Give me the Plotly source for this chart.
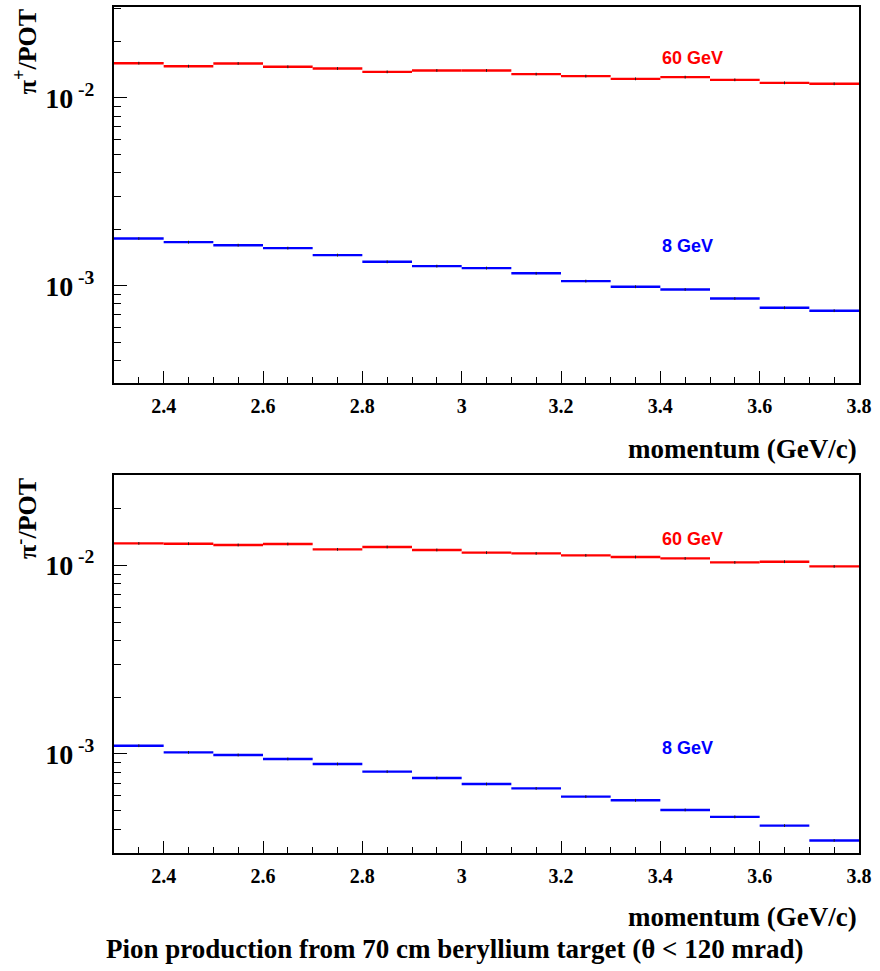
import plotly.graph_objects as go

# bin edges (momentum, GeV/c)
bin_low = [2.3, 2.4, 2.5, 2.6, 2.7, 2.8, 2.9, 3.0, 3.1, 3.2, 3.3, 3.4, 3.5, 3.6, 3.7]
bin_high = [2.4, 2.5, 2.6, 2.7, 2.8, 2.9, 3.0, 3.1, 3.2, 3.3, 3.4, 3.5, 3.6, 3.7, 3.8]

# pi+ per POT
piplus_60 = [0.01528, 0.01473, 0.01523, 0.01462, 0.01432, 0.01374, 0.01398, 0.01398,
             0.01336, 0.01304, 0.01261, 0.01288, 0.01246, 0.01201, 0.01187]
piplus_8 = [1.783e-3, 1.706e-3, 1.644e-3, 1.586e-3, 1.456e-3, 1.341e-3, 1.272e-3, 1.242e-3,
            1.165e-3, 1.059e-3, 0.988e-3, 0.956e-3, 0.856e-3, 0.764e-3, 0.737e-3]
# pi- per POT
piminus_60 = [0.01308, 0.01303, 0.01283, 0.01298, 0.01216, 0.01252, 0.01207, 0.01168,
              0.01158, 0.01130, 0.01108, 0.01089, 0.01037, 0.01046, 0.00988]
piminus_8 = [1.106e-3, 1.020e-3, 0.988e-3, 0.941e-3, 0.885e-3, 0.806e-3, 0.746e-3, 0.693e-3,
             0.657e-3, 0.594e-3, 0.568e-3, 0.505e-3, 0.464e-3, 0.417e-3, 0.348e-3]

x_ticks = [2.4, 2.6, 2.8, 3.0, 3.2, 3.4, 3.6, 3.8]
y_major = [1e-3, 1e-2]
y_major_text = ["10<sup> -3</sup>", "10<sup> -2</sup>"]
y_minor = [k * 1e-4 for k in range(3, 10)] + [k * 1e-3 for k in range(2, 10)] + [k * 1e-2 for k in range(2, 4)]

centers = [(a + b) / 2 for a, b in zip(bin_low, bin_high)]
half = [(b - a) / 2 for a, b in zip(bin_low, bin_high)]

SERIF = "Liberation Serif"
SANS = "Liberation Sans"

fig = go.Figure()


def add_hist(vals, color, xa, ya):
    fig.add_trace(go.Scatter(
        x=centers, y=vals, mode="markers",
        marker=dict(symbol="line-ns-open", size=2, color="#222", line=dict(width=1, color="#222")),
        error_x=dict(type="data", array=half, symmetric=True, width=0, thickness=2.4, color=color),
        xaxis=xa, yaxis=ya, showlegend=False, hoverinfo="x+y",
    ))


add_hist(piplus_60, "#ff0000", "x", "y")
add_hist(piplus_8, "#0000ff", "x", "y")
add_hist(piminus_60, "#ff0000", "x2", "y2")
add_hist(piminus_8, "#0000ff", "x2", "y2")

xcommon = dict(
    range=[2.3, 3.8], tickvals=x_ticks, ticks="inside", ticklen=12, tickwidth=1,
    tickcolor="black", showline=True, mirror=True, linecolor="black", linewidth=2,
    showgrid=False, zeroline=False, automargin=False,
    tickfont=dict(family=SERIF, size=20, color="black", weight="bold"),
    ticklabelstandoff=4,
    minor=dict(dtick=0.05, tick0=2.3, ticks="inside", ticklen=6, tickcolor="black", showgrid=False),
)
ycommon = dict(
    type="log", tickvals=y_major, ticktext=y_major_text, ticks="inside", ticklen=13,
    tickwidth=1, tickcolor="black", showline=True, mirror=True, linecolor="black",
    linewidth=2, showgrid=False, zeroline=False, automargin=False,
    tickfont=dict(family=SERIF, size=28, color="black", weight="bold"),
    ticklabelstandoff=12,
    minor=dict(tickvals=y_minor, ticks="inside", ticklen=7, tickcolor="black", showgrid=False),
)

fig.update_layout(
    width=880, height=971,
    margin=dict(l=114, r=21, t=7, b=118, autoexpand=False),
    plot_bgcolor="white", paper_bgcolor="white",
    xaxis=dict(xcommon, domain=[0, 1], anchor="y"),
    yaxis=dict(ycommon, domain=[0.5556, 1.0], range=[-3.517, -1.517], anchor="x"),
    xaxis2=dict(xcommon, domain=[0, 1], anchor="y2"),
    yaxis2=dict(ycommon, domain=[0.0, 0.4463], range=[-3.525, -1.523], anchor="x2"),
)

ann = []
# energy labels
for txt, col, xr, yr, yv in [
    ("60 GeV", "#ff0000", "x", "y", -1.789),
    ("8 GeV", "#0000ff", "x", "y", -2.791),
    ("60 GeV", "#ff0000", "x2", "y2", -1.859),
    ("8 GeV", "#0000ff", "x2", "y2", -2.968),
]:
    ann.append(dict(text=txt, x=3.4, y=yv, xref=xr, yref=yr, xanchor="left", yanchor="middle",
                    showarrow=False, font=dict(family=SANS, size=18, color=col, weight="bold")))

# y-axis titles
ann.append(dict(text="π<sup>+</sup>/POT", x=-0.1185, y=1.0, xref="paper", yref="paper",
                xanchor="center", yanchor="top", textangle=-90, showarrow=False,
                font=dict(family=SERIF, size=26, color="black", weight="bold")))
ann.append(dict(text="π<sup>-</sup>/POT", x=-0.1185, y=0.446, xref="paper", yref="paper",
                xanchor="center", yanchor="top", textangle=-90, showarrow=False,
                font=dict(family=SERIF, size=26, color="black", weight="bold")))
# x-axis titles
for yv in [0.478, -0.0753]:
    ann.append(dict(text="momentum (GeV/c)", x=1.0, y=yv, xref="paper", yref="paper",
                    xanchor="right", yanchor="middle", showarrow=False,
                    font=dict(family=SERIF, size=27, color="black", weight="bold")))
# figure caption
ann.append(dict(text="Pion production from 70 cm beryllium target (θ < 120 mrad)",
                x=(454 - 114) / 745, y=-0.114, xref="paper", yref="paper",
                xanchor="center", yanchor="middle", showarrow=False,
                font=dict(family=SERIF, size=27, color="black", weight="bold")))
fig.update_layout(annotations=ann)

fig.write_html(
    "out.html",
    config={"displayModeBar": False},
    post_script="document.body.style.margin='0';document.body.style.padding='0';",
)
